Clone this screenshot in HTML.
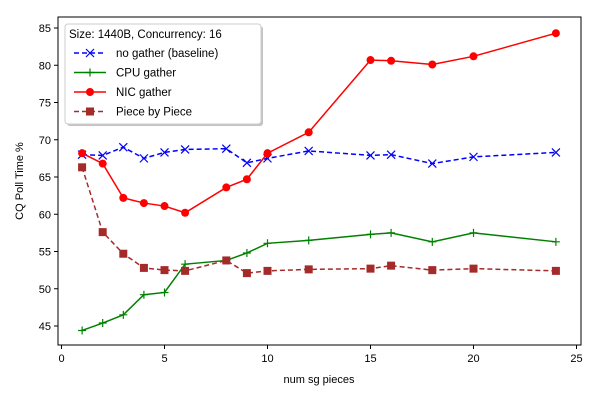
<!DOCTYPE html>
<html><head><meta charset="utf-8"><style>
body{margin:0;background:#fff;}
svg text{font-family:"Liberation Sans","DejaVu Sans",sans-serif;}
</style></head><body>
<svg id="chart" width="600" height="400" xmlns="http://www.w3.org/2000/svg">
<rect x="0" y="0" width="600" height="400" fill="#fff"/>
<g id="grid"></g>
<g id="series"></g>
<rect x="58" y="17" width="523" height="328" fill="none" stroke="#000" stroke-width="1"/>
<g id="axes"></g>
<text x="319" y="383" font-size="11" text-anchor="middle">num sg pieces</text>
<text x="0" y="0" font-size="11" text-anchor="middle" transform="translate(23,181) rotate(-90)">CQ Poll Time %</text>
<g id="legend">
<rect x="67" y="26" width="196" height="100" rx="3" fill="#888" opacity="0.5"/>
<rect x="65" y="24" width="196" height="100" rx="3" fill="#fff" stroke="#ccc"/>
<text x="69" y="38" font-size="11.5">Size: 1440B, Concurrency: 16</text>
</g>
</svg>
<script>
const xs=[1,2,3,4,5,6,8,9,10,12,15,16,18,20,24];
const blueVals=[68,67.9,69,67.5,68.3,68.7,68.8,66.9,67.5,68.5,67.9,68,66.8,67.7,68.3];
const greenVals=[44.4,45.4,46.5,49.2,49.5,53.3,53.8,54.8,56.1,56.5,57.3,57.5,56.3,57.5,56.3];
const redVals=[68.2,66.8,62.2,61.5,61.1,60.2,63.6,64.7,68.2,71,80.7,80.6,80.1,81.2,84.3];
const brownVals=[66.3,57.6,54.7,52.8,52.5,52.4,53.8,52.1,52.4,52.6,52.7,53.1,52.5,52.7,52.4];
const xTicks=[0,5,10,15,20,25];
const yTicks=[45,50,55,60,65,70,75,80,85];
const seriesNames=["no gather (baseline)","CPU gather","NIC gather","Piece by Piece"];
const NS="http://www.w3.org/2000/svg";
function X(v){return 61.5+v*20.6;}
function Y(v){return 28+(85-v)*7.45;}
function el(t,a,p){const e=document.createElementNS(NS,t);for(const k in a)e.setAttribute(k,a[k]);p.appendChild(e);return e;}
const axes=document.getElementById('axes');
xTicks.forEach(t=>{
 const l=el('line',{x1:X(t),x2:X(t),y1:345,y2:349,stroke:'#000'},axes);
 
 
 const tx=el('text',{x:X(t),y:362,'font-size':11,'text-anchor':'middle'},axes);tx.textContent=t;
 
 
});
yTicks.forEach(t=>{
 const l=el('line',{x1:54,x2:58,y1:Y(t),y2:Y(t),stroke:'#000'},axes);
 
 
 const tx=el('text',{x:51,y:Y(t)+4,'font-size':11,'text-anchor':'end'},axes);tx.textContent=t;
 
 
});
const ser=document.getElementById('series');
function marker(type,x,y,c,g){
 if(type==='x'){el('path',{d:`M${x-4},${y-4}L${x+4},${y+4}M${x-4},${y+4}L${x+4},${y-4}`,stroke:c,'stroke-width':1.2},g);}
 else if(type==='+'){el('path',{d:`M${x-4},${y}L${x+4},${y}M${x},${y-4}L${x},${y+4}`,stroke:c,'stroke-width':1.2},g);}
 else if(type==='o'){el('circle',{cx:x,cy:y,r:4,fill:c},g);}
 else {el('rect',{x:x-4,y:y-4,width:8,height:8,fill:c},g);}
}
const defs=[
 {vals:blueVals,c:'#0000ff',dash:'5,3',m:'x',name:'series-no-gather'},
 {vals:greenVals,c:'#008000',dash:'',m:'+',name:'series-cpu-gather'},
 {vals:redVals,c:'#ff0000',dash:'',m:'o',name:'series-nic-gather'},
 {vals:brownVals,c:'#a52a2a',dash:'5,3',m:'s',name:'series-piece-by-piece'}
];
defs.forEach(d=>{
 const g=el('g',{},ser);
 
 
 const pts=xs.map((x,i)=>X(x)+','+Y(d.vals[i])).join(' ');
 const a={points:pts,fill:'none',stroke:d.c,'stroke-width':1.5};
 if(d.dash)a['stroke-dasharray']=d.dash;
 el('polyline',a,g);
 xs.forEach((x,i)=>marker(d.m,X(x),Y(d.vals[i]),d.c,g));
});
const lg=document.getElementById('legend');
defs.forEach((d,i)=>{
 const y=53+i*19.5;
 const g=el('g',{},lg);
 
 
 const a={x1:74,x2:106,y1:y,y2:y,stroke:d.c,'stroke-width':1.5};
 if(d.dash)a['stroke-dasharray']=d.dash;
 el('line',a,g);
 marker(d.m,90,y,d.c,g);
 const t=el('text',{x:116,y:y+4,'font-size':11.5},g);t.textContent=seriesNames[i];
});
</script>
</body></html>
